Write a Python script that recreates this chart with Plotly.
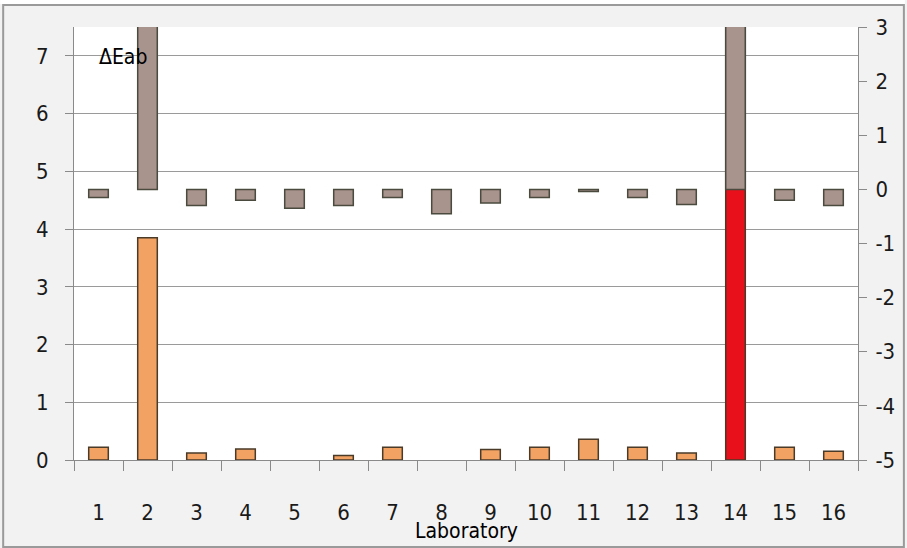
import plotly.graph_objects as go

labs = [str(i) for i in range(1, 17)]
delta_eab = [0.22, 3.85, 0.12, 0.19, 0.0, 0.08, 0.22, 0.0, 0.18, 0.22, 0.36, 0.22, 0.12, 10.0, 0.22, 0.15]
second_series = [-0.15, 6.0, -0.3, -0.2, -0.35, -0.3, -0.15, -0.45, -0.25, -0.15, -0.04, -0.15, -0.28, 6.0, -0.2, -0.3]
left_ticks = [0, 1, 2, 3, 4, 5, 6, 7]
right_ticks = [-5, -4, -3, -2, -1, 0, 1, 2, 3]
right_tick_text = ["-5", "-4", "-3", "-2", "-1", "0", "1", "2", "3"]

orange_colors = ["#e8101a" if l == "14" else "#f2a364" for l in labs]
orange_line_w = [0 if v == 0 else 1.5 for v in delta_eab]

FONT = "DejaVu Sans Condensed, Liberation Sans Narrow, sans-serif"

fig = go.Figure()
fig.add_trace(go.Bar(
    x=labs, y=delta_eab, yaxis="y", width=0.4,
    marker=dict(color=orange_colors, line=dict(color="#4a3a28", width=orange_line_w)),
    showlegend=False,
))
fig.add_trace(go.Bar(
    x=labs, y=second_series, yaxis="y2", width=0.4,
    marker=dict(color="#a8938d", line=dict(color="#4a4a3e", width=1.5)),
    showlegend=False,
))

W, H = 907, 548
L, R, T, B = 74, 47, 27, 88
pw, ph = W - L - R, H - T - B

def px(x):
    return (x - L) / pw

def py(y):
    return (H - B - y) / ph

fig.update_layout(
    width=W, height=H,
    margin=dict(l=L, r=R, t=T, b=B, pad=0),
    paper_bgcolor="#f2f2f2",
    plot_bgcolor="white",
    barmode="overlay",
    font=dict(family=FONT, size=20, color="#1a1a1a"),
    xaxis=dict(
        type="category", tickson="boundaries", showgrid=False,
        ticks="outside", ticklen=10, tickcolor="#8a8a8a",
        showline=True, linecolor="#8a8a8a", linewidth=1,
        ticklabelstandoff=33,
        tickfont=dict(family=FONT, size=22),
    ),
    yaxis=dict(
        range=[0, 7.5], tickvals=left_ticks, showgrid=True,
        gridcolor="#9a9a9a", gridwidth=1, zeroline=False,
        ticks="outside", ticklen=8, tickcolor="#8a8a8a",
        showline=True, linecolor="#8a8a8a", linewidth=1,
        ticklabelstandoff=12,
        tickfont=dict(family=FONT, size=22),
    ),
    yaxis2=dict(
        range=[-5, 3], tickvals=right_ticks, ticktext=right_tick_text,
        overlaying="y", side="right",
        showgrid=False, zeroline=False,
        ticks="outside", ticklen=8, tickcolor="#8a8a8a",
        showline=True, linecolor="#8a8a8a", linewidth=1,
        ticklabelstandoff=4,
        tickfont=dict(family=FONT, size=22),
    ),
    annotations=[
        dict(text="ΔEab", x=px(97), y=py(57), xref="paper", yref="paper",
             showarrow=False, xanchor="left", yanchor="middle",
             font=dict(family=FONT, size=21, color="black")),
        dict(text="Laboratory", x=px(467), y=py(531), xref="paper", yref="paper",
             showarrow=False, xanchor="center", yanchor="middle",
             font=dict(family=FONT, size=21, color="black")),
    ],
    shapes=[
        dict(type="rect", xref="paper", yref="paper",
             x0=px(3), x1=px(906), y0=py(5), y1=py(547),
             line=dict(color="#9a9a9a", width=2), fillcolor="rgba(0,0,0,0)", layer="below"),
        dict(type="rect", xref="paper", yref="paper",
             x0=px(0), x1=px(907), y0=py(0), y1=py(4),
             line=dict(width=0), fillcolor="white", layer="above"),
    ],
)

fig.write_html("out.html")
